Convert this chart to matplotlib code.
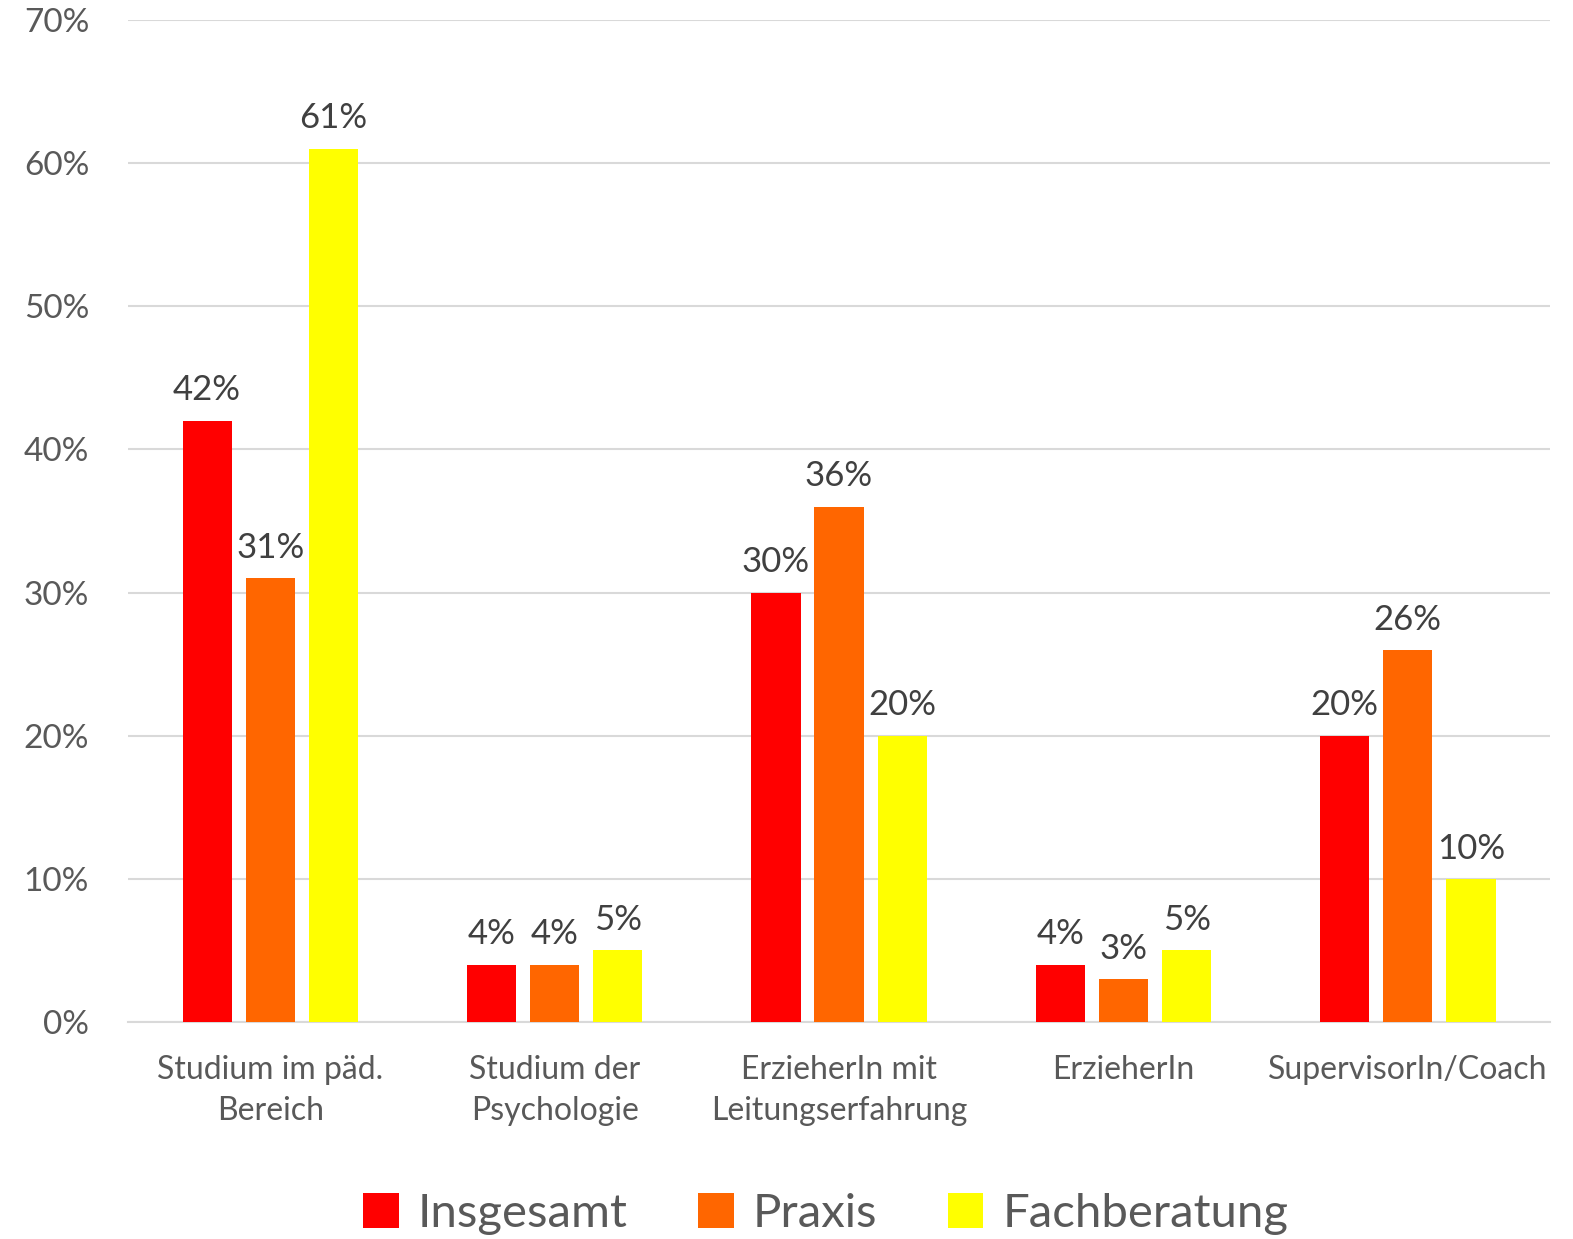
import numpy as np
import matplotlib.pyplot as plt

plt.rcParams['font.family'] = ['Lato', 'DejaVu Sans']

# data
categories = ["Studium im päd.\nBereich", "Studium der\nPsychologie",
              "ErzieherIn mit\nLeitungserfahrung", "ErzieherIn", "SupervisorIn/Coach"]
insgesamt = [42, 4, 30, 4, 20]
praxis = [31, 4, 36, 3, 26]
fachberatung = [61, 5, 20, 5, 10]

series = [("Insgesamt", insgesamt, "#FF0000"),
          ("Praxis", praxis, "#FF6600"),
          ("Fachberatung", fachberatung, "#FFFF00")]

fig = plt.figure(figsize=(15.73, 12.39), dpi=100)
ax = fig.add_axes([0.0814, 0.1751, 0.904, 0.8088])

x = np.arange(len(categories))
width = 0.173
offsets = [-0.222, 0, 0.222]

for (name, vals, col), off in zip(series, offsets):
    bars = ax.bar(x + off, vals, width, color=col, label=name, zorder=3)
    for b, v in zip(bars, vals):
        ax.text(b.get_x() + b.get_width() / 2, v + 1.0, f"{v}%",
                ha="center", va="bottom", fontsize=25, color="#404040")

ax.set_xlim(-0.5, len(categories) - 0.5)
ax.set_ylim(0, 70)
ax.set_yticks(range(0, 71, 10))
ax.set_yticklabels([f"{t}%" for t in range(0, 71, 10)], fontsize=24)
ax.set_xticks(x)
ax.set_xticklabels(categories, fontsize=23, linespacing=1.45)

ax.grid(axis="y", color="#D9D9D9", linewidth=1.5, zorder=0)
for s in ["top", "right", "left"]:
    ax.spines[s].set_visible(False)
ax.spines["bottom"].set_color("#D9D9D9")
ax.spines["bottom"].set_linewidth(1.5)
ax.tick_params(axis="both", length=0, labelcolor="#595959")
ax.tick_params(axis="y", pad=28)
ax.tick_params(axis="x", pad=24)

fig.legend(loc="center", bbox_to_anchor=(0.525, 0.02), ncol=3, frameon=False,
           fontsize=34, labelcolor="#595959", handlelength=0.75, handleheight=0.75,
           handletextpad=0.4, columnspacing=1.5)

fig.savefig("out.png", dpi=100)
